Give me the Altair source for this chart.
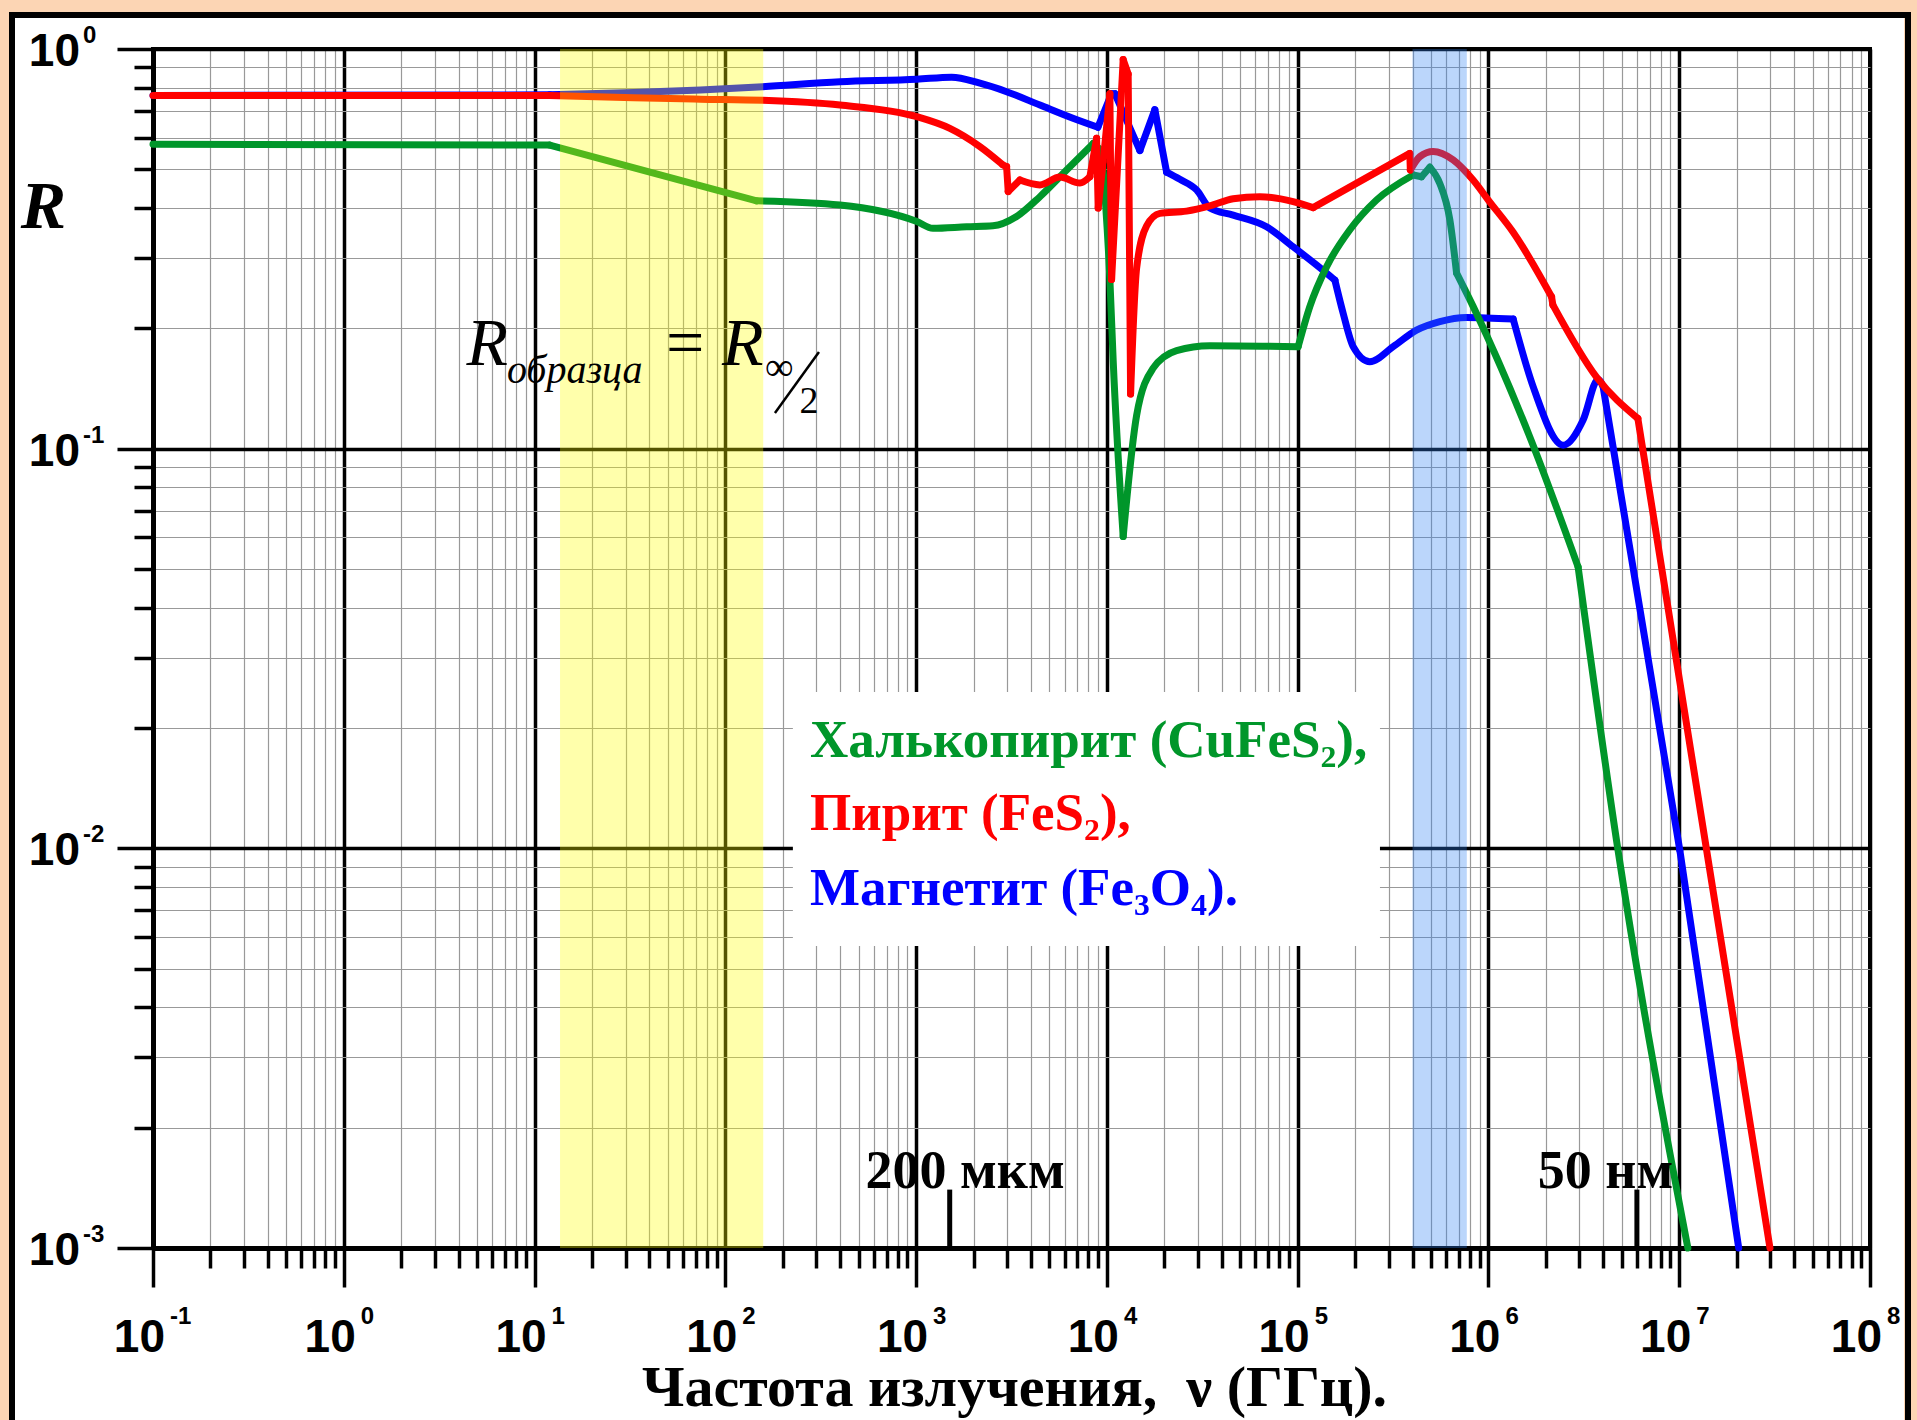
import altair as alt
import pandas as pd

# ---- Reflectance R(ν) of three minerals, ν in GHz ----
chalco_nu = [0.1, 12, 146, 399, 1010, 1225, 1840, 2527, 3363, 4455, 6150, 8477, 9380,
             10368, 10790, 12174, 14310, 17480, 23200, 34660, 100600, 115900, 141700,
             187800, 259100, 403000, 446000, 493000, 556000, 628000, 680600, 831000,
             1648000, 2951000, 4760000, 11100000]
chalco_r = [0.5775, 0.575, 0.417, 0.407, 0.370, 0.356, 0.359, 0.361, 0.381, 0.427, 0.498,
            0.580, 0.557, 0.265, 0.166, 0.0603, 0.121, 0.159, 0.176, 0.181, 0.180, 0.227,
            0.285, 0.353, 0.419, 0.484, 0.479, 0.506, 0.461, 0.373, 0.275, 0.227, 0.107,
            0.0506, 0.0100, 0.001]
# indices of points where the curve has a sharp corner
chalco_kinks = [1, 2, 11, 12, 15, 20, 25, 26, 27, 30, 33]

pyrite_nu = [0.1, 12, 33, 74, 157, 399, 1010, 1503, 2160, 2850, 2980, 3040, 3500, 4455,
             5672, 7220, 8144, 8831, 9002, 9563, 10368, 10583, 12174, 12930, 13310, 14310,
             16150, 18960, 26160, 34660, 45910, 63380, 94700, 120500, 387000, 389600,
             437000, 513000, 653000, 831000, 1005000, 1348000, 2142000, 2176000, 3686000,
             6070000, 29900000]
pyrite_r = [0.765, 0.765, 0.755, 0.749, 0.744, 0.724, 0.677, 0.633, 0.570, 0.513, 0.508,
            0.440, 0.470, 0.457, 0.478, 0.462, 0.479, 0.598, 0.400, 0.523, 0.773, 0.265,
            0.941, 0.866, 0.137, 0.282, 0.361, 0.388, 0.393, 0.405, 0.422, 0.427, 0.415,
            0.401, 0.548, 0.498, 0.538, 0.554, 0.528, 0.470, 0.417, 0.348, 0.240, 0.229,
            0.151, 0.119, 0.001]
pyrite_kinks = [1, 9, 10, 11, 12, 16, 17, 18, 19, 20, 21, 22, 23, 24, 33, 34, 35, 42, 43, 45]

magnet_nu = [0.1, 12, 33, 74, 157, 399, 1010, 1535, 2160, 2980, 4455, 6640, 8970, 10583,
             11012, 14894, 17840, 20560, 24130, 29520, 34660, 45910, 68710, 94700, 125600,
             156700, 173200, 195400, 238900, 316700, 419800, 556000, 767000, 1348000,
             1715000, 2463000, 3135000, 3758000, 3990000, 10070000, 20500000]
magnet_r = [0.765, 0.768, 0.778, 0.790, 0.805, 0.828, 0.840, 0.850, 0.821, 0.782, 0.724,
            0.671, 0.637, 0.773, 0.773, 0.557, 0.705, 0.492, 0.472, 0.444, 0.400, 0.384,
            0.359, 0.320, 0.288, 0.264, 0.218, 0.180, 0.165, 0.180, 0.198, 0.208, 0.213,
            0.211, 0.143, 0.102, 0.118, 0.149, 0.143, 0.0099, 0.001]
magnet_kinks = [1, 12, 13, 14, 15, 16, 17, 25, 33, 38, 39]

legend_lines = ["Халькопирит (CuFeS₂),", "Пирит (FeS₂),", "Магнетит (Fe₃O₄)."]

# shaded frequency ranges (GHz)
band_names = ["sample", "visible"]
band_from = [13.6, 4.0e5]
band_to = [158, 7.7e5]

# wavelength markers on the frequency axis
marker_nu = [1500, 6.0e6]
marker_text = ["200 мкм", "50 нм"]

x_decades = list(range(-1, 9))
y_decades = list(range(-3, 1))

x_title = "Частота излучения,\u00a0 ν (ГГц)."
y_title = "R"

# ---- styling ----
SERIF = "Liberation Serif, Times New Roman, serif"
SANS = "Liberation Sans, Arial, sans-serif"
PEACH = "#FCD5B4"
GREEN, RED, BLUE = "#00962A", "#FF0000", "#0000FF"
W, H = 1717, 1199

xscale = alt.Scale(type="log", domain=[0.1, 1e8])
yscale = alt.Scale(type="log", domain=[0.001, 1.0])

MAJOR = "abs(log(datum.value) / LN10 - round(log(datum.value) / LN10)) < 0.01"


def by_decade(major, minor):
    return {"condition": {"test": MAJOR, "value": major}, "value": minor}


x_tick_values = [m * 10.0 ** k for k in range(-1, 8) for m in range(1, 10)] + [1e8]
y_tick_values = [m * 10.0 ** k for k in range(-3, 0) for m in range(1, 10)] + [1.0]

x_axis = alt.Axis(values=x_tick_values, labels=False, grid=True,
                  gridColor=by_decade("black", "#999999"), gridWidth=by_decade(3.5, 1.2),
                  tickColor="black", tickWidth=3.5, tickSize=by_decade(39, 20),
                  domainColor="black", domainWidth=5,
                  title=x_title, titleFont=SERIF, titleFontSize=58, titleFontWeight="bold",
                  titleColor="black", titleX=861, titleY=157, titleAlign="center",
                  titleBaseline="alphabetic")
y_axis = alt.Axis(values=y_tick_values, labels=False, grid=True,
                  gridColor=by_decade("black", "#999999"), gridWidth=by_decade(3.5, 1.2),
                  tickColor="black", tickWidth=3.5, tickSize=by_decade(36, 19),
                  domainColor="black", domainWidth=5,
                  title=y_title, titleFont=SERIF, titleFontSize=68, titleFontWeight="bold",
                  titleFontStyle="italic", titleColor="black", titleAngle=0,
                  titleX=-110, titleY=178, titleAlign="center", titleBaseline="alphabetic")


def X(field="nu"):
    return alt.X(f"{field}:Q", scale=xscale, axis=x_axis)


def Y(field="R"):
    return alt.Y(f"{field}:Q", scale=yscale, axis=y_axis)


one = pd.DataFrame({"k": [0]})

# page border: peach margin and black frame around the white panel
peach_edge = alt.Chart(one).mark_rect(fill="white", fillOpacity=0, stroke=PEACH, strokeWidth=26).encode(
    x=alt.value(-153), x2=alt.value(W + 47), y=alt.value(-49), y2=alt.value(H + 200))
frame = alt.Chart(one).mark_rect(fill="white", fillOpacity=0, stroke="black", strokeWidth=6).encode(
    x=alt.value(-141), x2=alt.value(W + 38), y=alt.value(-34), y2=alt.value(H + 200))


def curve(nu, r, kinks, color):
    # split at the corners; each piece is drawn as a smooth monotone curve
    cuts = [0] + sorted(kinks) + [len(nu) - 1]
    rows = []
    for p in range(len(cuts) - 1):
        for j in range(cuts[p], cuts[p + 1] + 1):
            rows.append({"nu": nu[j], "R": r[j], "piece": p, "i": j})
    df = pd.DataFrame(rows)
    return alt.Chart(df).mark_line(color=color, strokeWidth=7, strokeJoin="round",
                                   strokeCap="round", interpolate="monotone").encode(
        x=X(), y=Y(), detail="piece:N", order="i:Q")


magnet = curve(magnet_nu, magnet_r, magnet_kinks, BLUE)
chalco = curve(chalco_nu, chalco_r, chalco_kinks, GREEN)
pyrite = curve(pyrite_nu, pyrite_r, pyrite_kinks, RED)

# white box behind the legend text
legend_box = alt.Chart(pd.DataFrame({"nu": [226], "nu2": [270000], "R": [0.0246], "R2": [0.0057]})
                       ).mark_rect(fill="white").encode(x=X(), x2=alt.X2("nu2"), y=Y(), y2=alt.Y2("R2"))

# translucent frequency bands drawn over the curves
band_df = pd.DataFrame({"band": band_names, "nu": band_from, "nu2": band_to,
                        "R": [0.001] * 2, "R2": [1.0] * 2})
bands = alt.Chart(band_df).mark_rect(opacity=0.33).encode(
    x=X(), x2=alt.X2("nu2"), y=Y(), y2=alt.Y2("R2"),
    color=alt.Color("band:N", scale=alt.Scale(domain=band_names, range=["#FFFF00", "#3282F2"]),
                    legend=None))

# wavelength marker ticks and labels
marker_df = pd.DataFrame({"nu": marker_nu, "R": [0.001] * 2, "R2": [0.0014] * 2})
markers = alt.Chart(marker_df).mark_rule(color="black", strokeWidth=5).encode(
    x=X(), y=Y(), y2=alt.Y2("R2"))


def note(text, nu, r, size, color="black", style="normal", weight="normal", font=SERIF):
    return alt.Chart(pd.DataFrame({"nu": [nu], "R": [r]})).mark_text(
        text=text, font=font, fontSize=size, fontStyle=style, fontWeight=weight,
        color=color, align="left", baseline="alphabetic").encode(x=X(), y=Y())


marker_labels = [note(marker_text[0], 543, 0.001414, 54, weight="bold"),
                 note(marker_text[1], 1.815e6, 0.001414, 54, weight="bold")]

legend_texts = [note(legend_lines[0], 277.6, 0.01693, 53, GREEN, weight="bold"),
                note(legend_lines[1], 277.6, 0.01112, 53, RED, weight="bold"),
                note(legend_lines[2], 277.6, 0.00722, 53, BLUE, weight="bold")]

# R_образца = R∞/2
formula = [note("R", 4.40, 0.162, 68, style="italic"),
           note("образца", 7.16, 0.146, 40, style="italic"),
           note("=", 48.8, 0.162, 68),
           note("R", 96, 0.162, 68, style="italic"),
           note("∞", 161.3, 0.1485, 40),
           note("2", 244.8, 0.1228, 38)]
slash = alt.Chart(pd.DataFrame({"nu": [182], "nu2": [309.6], "R": [0.1228], "R2": [0.1746]})
                  ).mark_rule(color="black", strokeWidth=2.5).encode(
    x=X(), x2=alt.X2("nu2"), y=Y(), y2=alt.Y2("R2"))

# decade tick labels: "10" with a raised exponent
xl = pd.DataFrame({"nu": [10.0 ** k for k in x_decades], "R": [0.001] * len(x_decades),
                   "exp": [str(k) for k in x_decades]})
yl = pd.DataFrame({"nu": [0.1] * len(y_decades), "R": [10.0 ** k for k in y_decades],
                   "exp": [str(k) for k in y_decades]})
x_base = alt.Chart(xl).mark_text(text="10", font=SANS, fontSize=46, fontWeight="bold",
                                 color="black", align="right", baseline="alphabetic",
                                 dx=12, dy=104).encode(x=X(), y=Y())
x_exp = alt.Chart(xl).mark_text(font=SANS, fontSize=24, fontWeight="bold", color="black",
                                align="left", baseline="alphabetic", dx=17, dy=76).encode(
    x=X(), y=Y(), text="exp:N")
y_base = alt.Chart(yl).mark_text(text="10", font=SANS, fontSize=46, fontWeight="bold",
                                 color="black", align="right", baseline="alphabetic",
                                 dx=-73, dy=17).encode(x=X(), y=Y())
y_exp = alt.Chart(yl).mark_text(font=SANS, fontSize=24, fontWeight="bold", color="black",
                                align="left", baseline="alphabetic", dx=-70, dy=-6).encode(
    x=X(), y=Y(), text="exp:N")

chart = alt.layer(
    peach_edge, frame, magnet, chalco, pyrite, legend_box, bands, markers, slash,
    *marker_labels, *legend_texts, *formula, x_base, x_exp, y_base, y_exp
).properties(
    width=W, height=H,
    padding={"left": 153, "top": 49, "right": 47, "bottom": 172},
    autosize=alt.AutoSizeParams(type="none"),
).configure(background="white").configure_view(stroke="black", strokeWidth=4)

chart.save("out.html", embed_options={"renderer": "svg", "actions": False})
